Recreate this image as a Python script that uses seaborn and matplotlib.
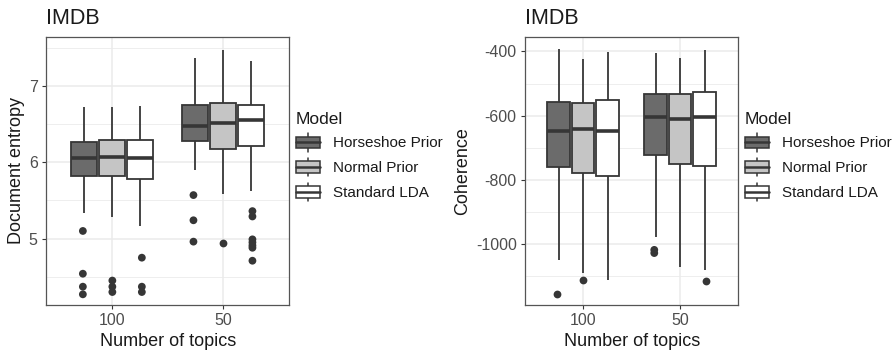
import numpy as np
import pandas as pd
import matplotlib
matplotlib.use("Agg")
import matplotlib.pyplot as plt
import seaborn as sns
from matplotlib.patches import Patch, Rectangle
from matplotlib.lines import Line2D
from matplotlib.legend_handler import HandlerBase
from matplotlib.ticker import MultipleLocator

# ---------------- data ----------------
topics = ["100", "50"]
models = ["Horseshoe Prior", "Normal Prior", "Standard LDA"]
fill_colors = ["#6B6B6B", "#C5C5C5", "#FFFFFF"]

# order of each list: (100,H) (100,N) (100,S) (50,H) (50,N) (50,S)
ent_lo  = [5.33, 5.28, 5.17, 5.90, 5.58, 5.63]
ent_q1  = [5.82, 5.82, 5.78, 6.28, 6.18, 6.21]
ent_med = [6.05, 6.07, 6.06, 6.48, 6.52, 6.55]
ent_q3  = [6.26, 6.29, 6.29, 6.75, 6.78, 6.75]
ent_hi  = [6.73, 6.73, 6.74, 7.36, 7.47, 7.33]
ent_out = [[5.10, 4.54, 4.37, 4.27], [4.45, 4.37, 4.30], [4.75, 4.37, 4.30],
           [5.57, 5.24, 4.96], [4.94], [5.36, 5.29, 4.99, 4.95, 4.91, 4.88, 4.71]]

coh_lo  = [-1052, -1092, -1113, -979, -1071, -1083]
coh_q1  = [-761, -780, -788, -723, -752, -758]
coh_med = [-649, -641, -648, -604, -612, -603]
coh_q3  = [-557, -562, -550, -533, -534, -525]
coh_hi  = [-393, -423, -403, -405, -420, -397]
coh_out = [[-1156], [-1113], [], [-1019, -1029], [], [-1117]]

groups = [(t, m) for t in topics for m in models]


def box_frame(lo, q1, med, q3, hi):
    rows = []
    for (t, m), a, b, c, d, e in zip(groups, lo, q1, med, q3, hi):
        for v in (a, b, c, d, e):
            rows.append({"topic": t, "model": m, "value": v})
    return pd.DataFrame(rows)


def out_frame(outs):
    rows = []
    for (t, m), vals in zip(groups, outs):
        for v in vals:
            rows.append({"topic": t, "model": m, "value": v})
    return pd.DataFrame(rows)


# ---------------- style ----------------
sns.set_theme(style="white")
plt.rcParams["font.family"] = ["Liberation Sans", "DejaVu Sans"]
plt.rcParams["axes.unicode_minus"] = False

LINE = "#363636"
fig = plt.figure(figsize=(8.94, 3.52), dpi=100)
ax1 = fig.add_axes([46 / 894, 1 - 305 / 352, (289.3 - 46) / 894, (305 - 36.7) / 352])
ax2 = fig.add_axes([525 / 894, 1 - 305 / 352, (738.3 - 525) / 894, (305 - 36.7) / 352])

pal = dict(zip(models, fill_colors))
dark_pal = {m: LINE for m in models}


def draw(ax, bdf, odf, ylim, yticks, yminor, ylabel):
    sns.boxplot(data=bdf, x="topic", y="value", hue="model", order=topics,
                hue_order=models, palette=pal, whis=np.inf, width=0.76, gap=0.08,
                linecolor=LINE, linewidth=1.3, showcaps=False,
                medianprops={"linewidth": 2.6, "color": LINE},
                legend=False, ax=ax)
    if len(odf):
        sns.stripplot(data=odf, x="topic", y="value", hue="model", order=topics,
                      hue_order=models, palette=dark_pal, dodge=True, jitter=False,
                      size=5.6, linewidth=0, legend=False, ax=ax, zorder=3)
    ax.set_xlim(-0.6, 1.6)
    ax.set_ylim(*ylim)
    ax.set_yticks(yticks)
    ax.yaxis.set_minor_locator(MultipleLocator(yminor))
    ax.set_axisbelow(True)
    ax.grid(True, which="major", color="#EBEBEB", linewidth=1.1)
    ax.grid(True, which="minor", axis="y", color="#EBEBEB", linewidth=0.6)
    for s in ax.spines.values():
        s.set_color("#555555")
        s.set_linewidth(0.9)
    ax.tick_params(axis="both", which="major", length=3, width=0.8, color=LINE,
                   labelcolor="#4D4D4D", labelsize=11.5, pad=3,
                   bottom=True, left=True)
    ax.tick_params(axis="both", which="minor", length=0)
    ax.set_xlabel("Number of topics", fontsize=13, color="#1A1A1A", labelpad=3)
    ax.set_ylabel(ylabel, fontsize=13, color="#1A1A1A", labelpad=3)
    ax.set_title("IMDB", loc="left", fontsize=15.5, color="#1A1A1A", pad=9)


draw(ax1, box_frame(ent_lo, ent_q1, ent_med, ent_q3, ent_hi), out_frame(ent_out),
     (4.13, 7.645), [5, 6, 7], 0.5, "Document entropy")
draw(ax2, box_frame(coh_lo, coh_q1, coh_med, coh_q3, coh_hi), out_frame(coh_out),
     (-1191, -354), [-1000, -800, -600, -400], 100, "Coherence")


# ---------------- legend with boxplot glyphs ----------------
class BoxHandler(HandlerBase):
    def create_artists(self, legend, orig_handle, xdescent, ydescent,
                       width, height, fontsize, trans):
        x0, y0 = -xdescent, -ydescent
        bh = height * 0.62
        by = y0 + (height - bh) / 2
        cx = x0 + width / 2
        arts = [
            Line2D([cx, cx], [y0, by], color=LINE, lw=1.1, transform=trans),
            Line2D([cx, cx], [by + bh, y0 + height], color=LINE, lw=1.1, transform=trans),
            Rectangle((x0, by), width, bh, facecolor=orig_handle.get_facecolor(),
                      edgecolor=LINE, lw=1.1, transform=trans),
            Line2D([x0, x0 + width], [by + bh / 2, by + bh / 2], color=LINE, lw=1.8,
                   transform=trans),
        ]
        return arts


handles = [Patch(facecolor=c) for c in fill_colors]
for xpos in (296, 745):
    leg = fig.legend(handles, models, title="Model", loc="upper left",
                     bbox_to_anchor=(xpos / 894, 1 - 112 / 352),
                     bbox_transform=fig.transFigure, frameon=False,
                     handler_map={Patch: BoxHandler()}, fontsize=11,
                     title_fontsize=12.5, handlelength=1.6, handleheight=1.5,
                     labelspacing=0.4, handletextpad=0.8, borderpad=0,
                     borderaxespad=0, alignment="left")
    for t in leg.get_texts():
        t.set_color("#1A1A1A")
    leg.get_title().set_color("#1A1A1A")

fig.savefig("out.png", dpi=100)
